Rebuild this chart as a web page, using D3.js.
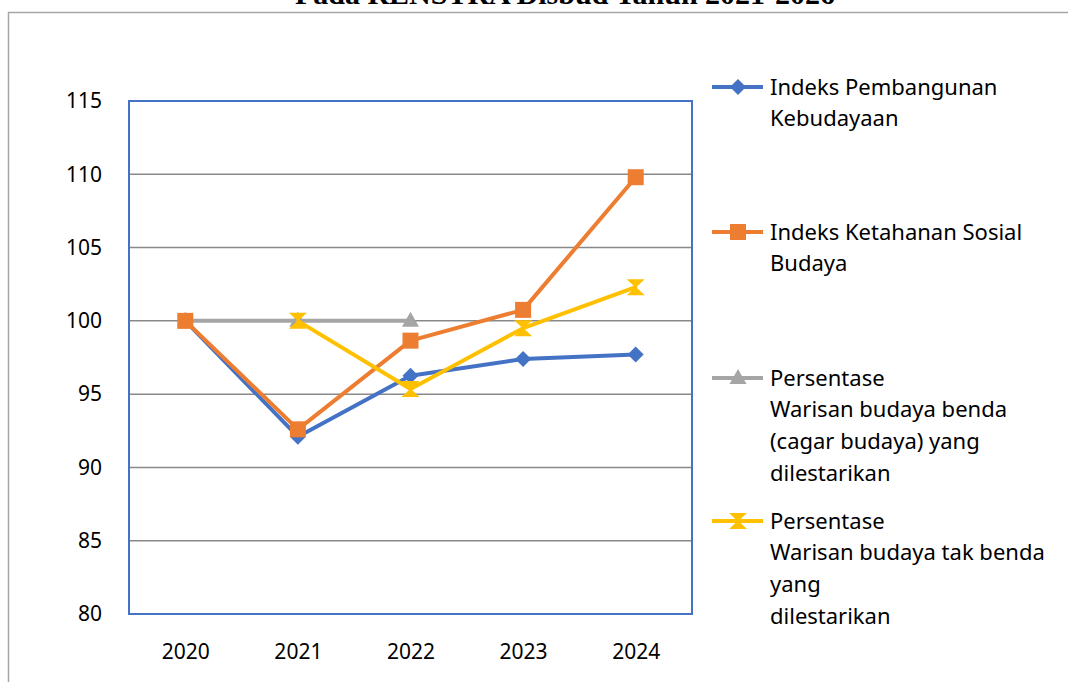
<!DOCTYPE html>
<html>
<head>
<meta charset="utf-8">
<script src="https://cdn.jsdelivr.net/npm/d3@7"></script>
<style>
  body { margin: 0; background: #fff; }
  svg { display: block; }
  text { font-family: "Noto Sans", "Open Sans", sans-serif; fill: #000; }
</style>
</head>
<body>
<div id="chart"></div>
<script>
// data
var years = ["2020", "2021", "2022", "2023", "2024"];
var ipk = [100, 92.1, 96.25, 97.4, 97.7];
var ikss = [100, 92.6, 98.65, 100.75, 109.8];
var wbb = [100, 100, 100, null, null];
var wbtb = [null, 100, 95.35, 99.5, 102.3];
var yTicks = [80, 85, 90, 95, 100, 105, 110, 115];

var seriesNames = [
    ["Indeks Pembangunan", "Kebudayaan"],
    ["Indeks Ketahanan Sosial", "Budaya"],
    ["Persentase", "Warisan budaya benda", "(cagar budaya) yang", "dilestarikan"],
    ["Persentase", "Warisan budaya tak benda", "yang", "dilestarikan"]
];
var colors = ["#4472C4", "#ED7D31", "#A5A5A5", "#FFC000"];
var shapes = ["diamond", "square", "triangle", "hourglass"];

var W = 1068, H = 682;
var plot = {x0: 129, y0: 101, x1: 692, y1: 614};

var svg = d3.select("#chart").append("svg")
    .attr("width", W).attr("height", H);

// title of the document, cut at the top like in the source
svg.append("text")
    .attr("x", 565).attr("y", 4)
    .attr("text-anchor", "middle")
    .style("font-family", "'Liberation Serif', serif")
    .style("font-weight", "bold")
    .style("font-size", "30px")
    .text("Pada RENSTRA Disbud Tahun 2021-2026");

// outer chart frame
svg.append("rect")
    .attr("x", 8.5).attr("y", 12.5)
    .attr("width", W + 20).attr("height", H + 20)
    .attr("fill", "none").attr("stroke", "#a6a6a6").attr("stroke-width", 1.5);

var x = d3.scalePoint().domain(years).range([plot.x0, plot.x1]).padding(0.5);
var y = d3.scaleLinear().domain([80, 115]).range([plot.y1, plot.y0]);

// gridlines
svg.append("g")
    .selectAll("line")
    .data(yTicks.slice(1, -1))
    .enter().append("line")
    .attr("x1", plot.x0).attr("x2", plot.x1)
    .attr("y1", function (d) { return y(d); })
    .attr("y2", function (d) { return y(d); })
    .attr("stroke", "#898989").attr("stroke-width", 1.5);

// y labels
var yAxis = svg.append("g")
    .attr("transform", "translate(" + (plot.x0 - 27) + ",0)")
    .call(d3.axisLeft(y).tickValues(yTicks).tickSize(0).tickPadding(0));
yAxis.select(".domain").remove();
yAxis.selectAll("text").style("font-size", "21px").attr("font-family", null);

// x labels
var xAxis = svg.append("g")
    .attr("transform", "translate(0," + (plot.y1 + 30) + ")")
    .call(d3.axisBottom(x).tickSize(0).tickPadding(0));
xAxis.select(".domain").remove();
xAxis.selectAll("text").style("font-size", "21px").attr("font-family", null)
    .attr("dy", "0.72em");

// plot border
svg.append("rect")
    .attr("x", plot.x0).attr("y", plot.y0)
    .attr("width", plot.x1 - plot.x0).attr("height", plot.y1 - plot.y0)
    .attr("fill", "none").attr("stroke", "#4472C4").attr("stroke-width", 2);

function markerPath(shape) {
    if (shape === "diamond") return "M0,-8L8,0L0,8L-8,0Z";
    if (shape === "square") return "M-8,-8H8V8H-8Z";
    if (shape === "triangle") return "M0,-9L8.5,6H-8.5Z";
    return "M-9,-8H9L1.5,-1V1L9,8H-9L-1.5,1V-1Z";
}

var allSeries = [ipk, ikss, wbb, wbtb];
var line = d3.line()
    .defined(function (d) { return d.v !== null; })
    .x(function (d) { return x(d.year); })
    .y(function (d) { return y(d.v); });

// draw order: grey first so the others cover it
var order = [2, 0, 1, 3];
order.forEach(function (i) {
    var pts = years.map(function (yr, j) { return {year: yr, v: allSeries[i][j]}; });
    var g = svg.append("g");
    g.append("path")
        .datum(pts)
        .attr("d", line)
        .attr("fill", "none")
        .attr("stroke", colors[i])
        .attr("stroke-width", 4)
        .attr("stroke-linejoin", "round");
    g.selectAll(".mk")
        .data(pts.filter(function (d) { return d.v !== null; }))
        .enter().append("path")
        .attr("d", markerPath(shapes[i]))
        .attr("transform", function (d) { return "translate(" + x(d.year) + "," + y(d.v) + ")"; })
        .attr("fill", colors[i]);
});

// legend
var legendY = [87, 232, 378, 521];
var lg = svg.append("g");
seriesNames.forEach(function (names, i) {
    var ly = legendY[i];
    lg.append("line")
        .attr("x1", 712).attr("x2", 763)
        .attr("y1", ly).attr("y2", ly)
        .attr("stroke", colors[i]).attr("stroke-width", 4);
    lg.append("path")
        .attr("d", markerPath(shapes[i]))
        .attr("transform", "translate(738," + ly + ")")
        .attr("fill", colors[i]);
    names.forEach(function (t, k) {
        lg.append("text")
            .attr("x", 770)
            .attr("y", ly + k * 31.7)
            .attr("dy", "0.35em")
            .style("font-size", "22px")
            .text(t);
    });
});
</script>
</body>
</html>
